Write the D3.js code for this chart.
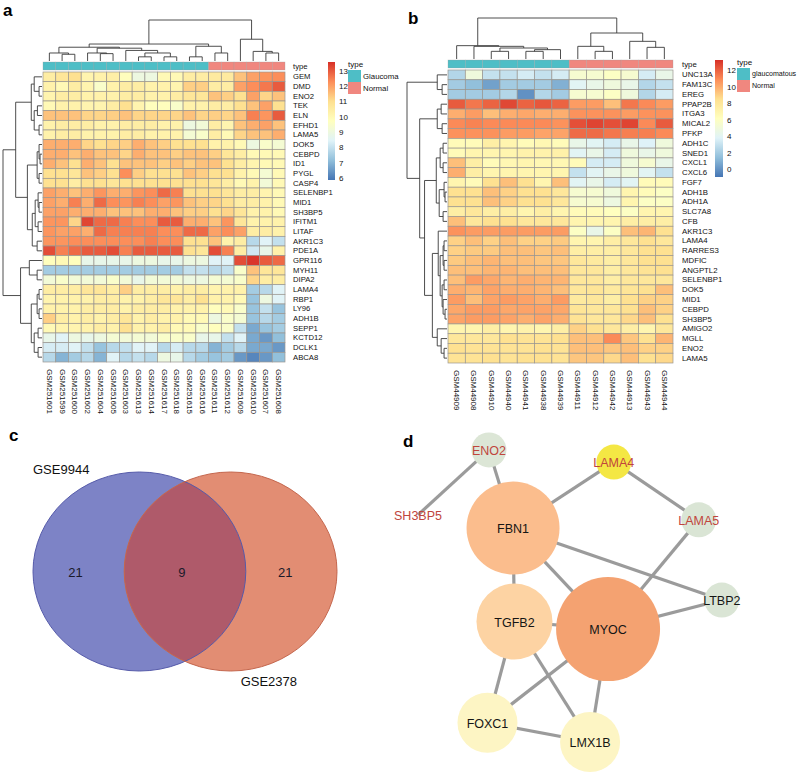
<!DOCTYPE html>
<html><head><meta charset="utf-8">
<script src="https://cdn.jsdelivr.net/npm/d3@7"></script>
<style>body{margin:0;background:#fff} svg{display:block;font-family:"Liberation Sans",Arial,Helvetica,sans-serif}</style>
</head><body><svg id="fig" width="800" height="774"></svg>
<script>
// ================= DATA =================
const genesA = ["GEM","DMD","ENO2","TEK","ELN","EFHD1","LAMA5","DOK5","CEBPD","ID1","PYGL","CASP4","SELENBP1","MID1","SH3BP5","IFITM1","LITAF","AKR1C3","PDE1A","GPR116","MYH11","DIPA2","LAMA4","RBP1","LY96","ADH1B","SEPP1","KCTD12","DCLK1","ABCA8"];
const samplesA = ["GSM251601","GSM251599","GSM251600","GSM251602","GSM251604","GSM251605","GSM251603","GSM251613","GSM251614","GSM251617","GSM251618","GSM251615","GSM251616","GSM251611","GSM251612","GSM251609","GSM251610","GSM251607","GSM251608"];
const typeA = ["Glaucoma","Glaucoma","Glaucoma","Glaucoma","Glaucoma","Glaucoma","Glaucoma","Glaucoma","Glaucoma","Glaucoma","Glaucoma","Glaucoma","Glaucoma","Normal","Normal","Normal","Normal","Normal","Normal"];
const valuesA = [
 [10.5,10.8,11,10.2,10.3,10.4,9.8,9,9,10,10,10.5,10.5,10.6,10.6,11.5,12,12.2,12.3],
 [10.3,10,10.5,10.2,9.5,10.3,10.5,10.5,10.3,10.3,10.2,11.3,11.3,10.5,10.5,12,12.3,12.6,13],
 [10.2,10.5,10.5,10.3,10.3,10.3,10.5,10.5,10.3,10.3,10.5,10.8,10.8,11.5,11.3,11,12,11.2,11.5],
 [10,10.3,10.3,10.2,10.2,10.5,11,10.2,9.8,9.8,9.5,10.3,10.3,10.5,10.5,11,11.5,12,11],
 [11.5,11.5,11.5,11.2,11.2,11.3,11.5,11.2,11.2,11.2,11.2,11.5,11.2,11.3,11.2,11.5,12.5,12.2,13],
 [10.3,10.5,10.5,10.5,10.3,10.3,10.5,10.5,10.5,10.3,10.3,9,9.2,10.5,10.2,11.5,11.8,12,11.5],
 [10.3,10.5,10.5,10.3,10.3,10.3,10.5,10.5,10.3,10.3,10.3,9.3,9.5,10.5,10,11.2,11.5,11.5,11.8],
 [11.8,11.8,11.8,11.2,11,11.2,11.3,11.8,11.5,11.3,11,11,11,10.3,10.3,10,9,9.5,9.3],
 [11.8,11.8,11.5,11.8,11.5,11.5,11.2,11.8,11.5,11.5,11.3,11.5,11.5,11.3,10.8,10.5,10,10,10],
 [11.8,11.5,11,11.8,11.5,11,11.5,11.5,11.5,11.3,11.5,11.3,11.5,11.5,11,10.5,10.2,10,10],
 [11,11,10.8,11.5,11.3,11,12.3,11.3,11,11,11,11.5,11.3,11,11,10.3,10,9.3,10],
 [11,11,10.5,11,11,10.8,11,11,11,11,11,11,11,10.8,10.5,10,10.3,9.2,10],
 [12,11.8,11.5,11.8,12.2,11.8,11.8,12.2,12.3,12.8,12.5,11,11,11,10.8,10.5,10.5,10.2,10],
 [12,11.8,12.5,11.8,12.8,12.3,12.2,12.5,12.3,12,12.2,11.5,11.3,11.2,11,10.5,10.5,10.3,10],
 [12,12,11.8,11.8,11.8,11.5,11.5,11.5,11.8,11.8,11.5,11.3,11.3,11,11.2,10.8,10.3,10.3,10],
 [12.2,12.2,11.2,13.3,12.8,12.8,12.5,12.3,12.3,13,13,11.8,11.8,11.5,12.2,10.8,10.3,10.3,10.3],
 [12.2,12,12,11.8,12.8,12.5,12.5,12.5,12.5,12.3,12.3,12.8,12.8,12,12.3,12,10.5,10.5,10.3],
 [12.2,12.2,12.3,12.3,12.3,12.3,12.3,12.3,12.5,12.3,12.3,11,11,11.5,10.3,10.5,7.8,8.5,8],
 [13.2,12.5,12.8,13,13,13.2,12.5,13,13,13,13,11,10.8,13.2,12.5,10.5,8.2,8.8,10.3],
 [9.8,10,9.8,8.8,8.8,8.8,8.8,9,9,8.8,8.8,9,9,8.5,8.5,13.2,13.5,13,12.8],
 [7.5,7.5,7.5,7.5,7.5,7.5,7.5,7.5,7.5,7.5,7.5,8,8,7.8,8,9.5,11.5,10.8,10.8],
 [9.2,9.5,9.2,9.2,9.2,9.5,9.2,8.8,9.2,9.2,9.2,9,9,9.3,9.3,9.5,11.2,10.5,10.5],
 [10.5,10.5,10.5,10.8,10.8,10.5,11.3,10.5,10.5,10.5,10.3,10.5,10.5,10.2,10.3,10.3,7.5,7.8,8.5],
 [10.2,10.3,10.3,10.3,10.5,10.5,10.3,10.3,10.5,10.8,10.8,10.5,11,10.3,10.3,10,7.3,9,8.5],
 [10.3,10.3,10.3,10.5,10.5,10.5,10.3,10.5,10.5,10.5,10.3,10.3,10.3,9.8,10,9.5,7.3,8,7.3],
 [11.3,10.5,10.3,10.5,10.3,10.5,10.8,10.3,10.5,10.3,10.3,10,10,9,9.5,9.3,7.3,7.8,7.5],
 [10,10.2,10.2,10.3,10.5,10.3,11,10.3,10.3,10.5,10,10,9.5,9.8,9.5,8,6.8,7.3,7.5],
 [8.8,8.5,9,8.8,9,9.3,9.2,9.3,9.2,9.5,9.5,9.5,8.8,8.8,8,8.5,6.8,6.5,7.2],
 [8.3,8.3,8.5,8,7.3,7.8,8,8.5,8.5,7.8,8.3,7.8,7.8,7,7.5,7.8,6.8,6.8,6.5],
 [7.8,7,7.5,7.8,7,8.5,7.8,8,7.8,9,8.8,7.8,7.5,7.3,7.5,6.5,6.2,6.5,7.2]
];
// dendrograms: [mergeHeight, left, right]; leaves are column/row indices
const colTreeA = [128,[53,[43,[25,0,[21,1,2]],[40,[25,3,[23,4,5]],[33,6,[25,[13,7,8],[13,9,10]]]]],[46,[13,11,12],[25,13,14]]],[68,15,[30,16,[25,17,18]]]];
const rowTreeA = [40,[27,[11,[8,0,[3,1,2]],[8,[4.7,3,4],[3,5,6]]],[15,[5,[3,7,[2,8,9]],[3,10,11]],[10,[7,[4,12,[3,13,14]],[4,15,16]],[5,17,18]]]],[22,[13,19,[5,20,21]],[11,[5,[3,22,23],[3,24,25]],[8,[4,26,27],[4,28,29]]]]];
const legendTicksA = [6,7,8,9,10,11,12,13];
const rangeA = [5.9,13.6];

const genesB = ["UNC13A","FAM13C","EREG","PPAP2B","ITGA3","MICAL2","PFKP","ADH1C","SNED1","CXCL1","CXCL6","FGF7","ADH1B","ADH1A","SLC7A8","CFB","AKR1C3","LAMA4","RARRES3","MDFIC","ANGPTL2","SELENBP1","DOK5","MID1","CEBPD","SH3BP5","AMIGO2","MGLL","ENO2","LAMA5"];
const samplesB = ["GSM44909","GSM44908","GSM44910","GSM44940","GSM44941","GSM44938","GSM44939","GSM44911","GSM44912","GSM44942","GSM44913","GSM44943","GSM44944"];
const typeB = ["glaucomatous","glaucomatous","glaucomatous","glaucomatous","glaucomatous","glaucomatous","glaucomatous","Normal","Normal","Normal","Normal","Normal","Normal"];
const valuesB = [
 [2.5,5,3,3,3.5,3,3.5,5.5,5.5,6,5.5,3.5,4.5],
 [2,1.5,0.5,2,2,2,1,4,4.5,5,4.5,2.5,3],
 [2,2,2,2.5,0,2.5,2,5.5,5.5,6,5,2.5,3.5],
 [12.2,11.5,12,12.7,12,12.3,12,10.5,10.5,9.5,11.5,11,10.5],
 [10,10.5,9.5,10,10.2,10,10,10.8,10.8,10.8,10.5,10.8,10.8],
 [11,11.2,11,11,11,11,10.8,12.5,12.8,12.5,12.8,11,12.2],
 [10.8,10.8,10.8,10.5,10.5,10.3,10.3,11.8,11.8,11.5,11.3,11.3,11],
 [6.5,6.5,7.5,7,6.5,6.8,6.5,4.5,4,3.5,4.5,3.8,5],
 [6.5,7,7,7,7.2,7.2,7.3,4,4.5,3.5,5,4.5,5],
 [9.5,7.5,6.5,6.8,7,6.8,6.8,6.5,3.5,3.5,5,5.5,4.5],
 [10,7.5,7,7,7,7,7,3,4,4.5,5,4,3],
 [7,6.5,8.5,9.5,8.5,7,9.5,4,4.5,3.5,4,6.5,6.5],
 [8.5,8.5,9.5,9,8.5,8.5,8,5.5,5.5,5,7,6.5,6],
 [8.5,8.5,9.5,9,8.5,8.5,8,5.5,5.5,4.8,7,6,6],
 [7.5,8,7.5,7.5,7,7.5,7,6.5,6.5,6.2,6,7,7],
 [9.5,8,8.5,8.5,8,8,8,7,7,7,7.5,7.5,7.5],
 [10.8,10.5,10.5,10.5,10.5,10.5,10.5,6,4.5,6,9.5,9.8,8.5],
 [9,9.5,9,9.5,9,9,9.2,7,7,7.5,8,8.5,8],
 [9,9.2,9.2,9.5,9.5,9.3,9.5,7.5,7.5,7.5,8,8.5,8.5],
 [9.2,9.5,9.8,9.5,9.5,9.3,9.3,8,7.8,7.5,8,8.5,8.5],
 [9.5,9.5,9.8,9.8,9.5,9.5,9.5,8,8,7.5,8,8.3,8.5],
 [9.5,10.5,10.2,9.8,10,9.8,9.8,8,8,7.5,8,8,8],
 [10,9.8,10.3,10,10,9.8,9.5,8,8.2,7.8,8.2,8.5,9.5],
 [10.5,9.5,10.3,10.5,10.3,10,10.5,7.8,8,7.5,8.5,9,9],
 [10.2,10.5,10.5,10.2,10.3,10.3,10.2,8.2,8,8,8.5,9.5,9],
 [10.3,10.5,10.5,10.3,10,10.3,10,8.3,8,8,8.8,9.5,8.5],
 [7,7,7.5,7,7.2,7,7.5,9,8.5,8,7.5,7,8],
 [8,8,8,8.5,8.3,8.3,8.5,9.5,9.5,11,9.3,8.5,9.8],
 [8.5,8.3,8.3,8.3,8.3,8.5,8.3,9.5,9.5,9.3,9.5,9,9],
 [8.3,8.3,8.5,8.3,8.5,8.5,8.3,9.3,9.3,8.8,9.5,8.5,8.8]
];
const colTreeB = [123,[40,0,[38,1,[33,[23,2,3],[28,[23,4,5],6]]]],[78,[38,7,[23,8,9]],[53,10,[35,11,12]]]];
const rowTreeB = [41,[10,0,[5,1,2]],[28,[10,[6,3,4],[5,5,6]],[23,[11,[7,[4,7,8],[4,9,10]],[8,[3,11,[2,12,13]],[4,14,15]]],[15,[9,16,[7,[4,[3,17,18],[3,19,20]],[5,[3,21,22],[4,23,[2,24,25]]]]],[10,26,[6,27,[3,28,29]]]]]]];
const legendTicksB = [0,2,4,6,8,10,12];
const rangeB = [-0.9,13.3];

const vennSets = ["GSE9944","GSE2378"];
const vennCounts = [21, 9, 21]; // only first, both, only second

const netNodes = ["ENO2","LAMA4","SH3BP5","FBN1","LAMA5","LTBP2","TGFB2","MYOC","FOXC1","LMX1B"];
const netEdges = [["SH3BP5","ENO2"],["ENO2","FBN1"],["FBN1","LAMA4"],["LAMA4","LAMA5"],["LAMA5","MYOC"],["FBN1","LTBP2"],["FBN1","TGFB2"],["FBN1","MYOC"],["MYOC","LTBP2"],["TGFB2","MYOC"],["TGFB2","FOXC1"],["TGFB2","LMX1B"],["MYOC","FOXC1"],["MYOC","LMX1B"],["FOXC1","LMX1B"]];
const netQueryGenes = ["ENO2","LAMA4","SH3BP5","LAMA5"];

// ================= DRAWING =================
const svg = d3.select("#fig");
const palette = ["#4575B4","#91BFDB","#E0F3F8","#FFFFBF","#FEE090","#FC8D59","#D73027"];
const typeColors = {Glaucoma:"#4EBEC6", glaucomatous:"#4EBEC6", Normal:"#F0877F"};

function drawDendro(g, tree, leafPos, hScale, orient) {
  function walk(node) {
    if (typeof node === "number") return {p: leafPos(node), h: 0};
    const [h, a, b] = node;
    const A = walk(a), B = walk(b);
    let d;
    if (orient === "top") {
      d = `M${A.p},${hScale(A.h)}V${hScale(h)}H${B.p}V${hScale(B.h)}`;
    } else {
      d = `M${hScale(A.h)},${A.p}H${hScale(h)}V${B.p}H${hScale(B.h)}`;
    }
    g.append("path").attr("d", d).attr("fill","none").attr("stroke","#3a3a3a").attr("stroke-width",0.9);
    return {p: (A.p + B.p) / 2, h};
  }
  walk(tree);
}

function heatmap(cfg) {
  const g = svg.append("g");
  const nC = cfg.samples.length, nR = cfg.genes.length;
  const x = d3.scaleBand().domain(d3.range(nC)).range([cfg.x0, cfg.x1]);
  const y = d3.scaleBand().domain(d3.range(nR)).range([cfg.y0, cfg.y1]);
  const [vmin, vmax] = cfg.range;
  const color = d3.scaleLinear()
    .domain(palette.map((_, i) => vmin + i * (vmax - vmin) / (palette.length - 1)))
    .range(palette).clamp(true);

  cfg.values.forEach((row, r) => row.forEach((v, c) => {
    g.append("rect").attr("x", x(c)).attr("y", y(r))
      .attr("width", x.bandwidth()).attr("height", y.bandwidth())
      .attr("fill", color(v)).attr("stroke", "#9a9690").attr("stroke-width", 0.7);
  }));
  cfg.types.forEach((t, c) => {
    g.append("rect").attr("x", x(c)).attr("y", cfg.annY)
      .attr("width", x.bandwidth()).attr("height", cfg.annH)
      .attr("fill", typeColors[t]).attr("stroke", "#9c9c9c").attr("stroke-width", 0.5).attr("stroke-opacity",0.6);
  });
  cfg.genes.forEach((gname, r) => {
    g.append("text").attr("x", cfg.x1 + cfg.labGap).attr("y", y(r) + y.bandwidth() / 2)
      .attr("dominant-baseline", "central").attr("font-size", cfg.rowFont).attr("fill","#111").text(gname);
  });
  g.append("text").attr("x", cfg.x1 + cfg.labGap).attr("y", cfg.annY + cfg.annH / 2)
    .attr("dominant-baseline", "central").attr("font-size", cfg.rowFont).attr("fill","#111").text("type");
  cfg.samples.forEach((s, c) => {
    g.append("text")
      .attr("transform", `translate(${x(c) + x.bandwidth() / 2},${cfg.y1 + 7}) rotate(90)`)
      .attr("dominant-baseline", "central").attr("font-size", 8).attr("fill","#111").text(s);
  });
  const hCol = d3.scaleLinear().domain([0, cfg.colTree[0]]).range([cfg.annY - 1, cfg.colTop]);
  drawDendro(g, cfg.colTree, c => x(c) + x.bandwidth() / 2, hCol, "top");
  const hRow = d3.scaleLinear().domain([0, cfg.rowTree[0]]).range([cfg.x0 - 1, cfg.rowLeft]);
  drawDendro(g, cfg.rowTree, r => y(r) + y.bandwidth() / 2, hRow, "left");

  const gid = "grad" + cfg.id;
  const grad = svg.append("defs").append("linearGradient").attr("id", gid)
    .attr("x1", 0).attr("y1", 1).attr("x2", 0).attr("y2", 0);
  palette.forEach((p, i) => grad.append("stop").attr("offset", i / (palette.length - 1)).attr("stop-color", p));
  const ly = d3.scaleLinear().domain(cfg.range).range([cfg.legY1, cfg.legY0]);
  g.append("rect").attr("x", cfg.legX).attr("y", cfg.legY0).attr("width", cfg.legW)
    .attr("height", cfg.legY1 - cfg.legY0).attr("fill", `url(#${gid})`);
  cfg.ticks.forEach(t => {
    g.append("text").attr("x", cfg.legX + cfg.legW + 4).attr("y", ly(t))
      .attr("dominant-baseline", "central").attr("font-size", 8).attr("fill","#111").text(t);
  });
  g.append("text").attr("x", cfg.tlX).attr("y", cfg.tlY).attr("font-size", 8).attr("fill","#111").text("type");
  const cats = Array.from(new Set(cfg.types));
  cats.forEach((ct, i) => {
    g.append("rect").attr("x", cfg.tlX).attr("y", cfg.tlY + 3 + i * 12).attr("width", 13).attr("height", 12)
      .attr("fill", typeColors[ct]);
    g.append("text").attr("x", cfg.tlX + 15).attr("y", cfg.tlY + 9 + i * 12)
      .attr("dominant-baseline", "central").attr("font-size", cfg.legFont).attr("fill","#111").text(ct);
  });
}

heatmap({id:"A", genes:genesA, samples:samplesA, types:typeA, values:valuesA, range:rangeA, ticks:legendTicksA,
  colTree:colTreeA, rowTree:rowTreeA,
  x0:43, x1:285, y0:72, y1:362, annY:62, annH:8, colTop:20, rowLeft:3, labGap:8, rowFont:7.7,
  legX:328, legW:7, legY0:62, legY1:180, tlX:348, tlY:67, legFont:7.8});

heatmap({id:"B", genes:genesB, samples:samplesB, types:typeB, values:valuesB, range:rangeB, ticks:legendTicksB,
  colTree:colTreeB, rowTree:rowTreeB,
  x0:448, x1:673, y0:70, y1:363, annY:60, annH:8, colTop:18, rowLeft:407, labGap:9, rowFont:7.8,
  legX:715, legW:8, legY0:60, legY1:177, tlX:737, tlY:65, legFont:7.1});

[["a",3,16],["b",408,24],["c",9,441],["d",403,447]].forEach(([t,px,py]) => {
  svg.append("text").attr("x",px).attr("y",py).attr("font-size",17).attr("font-weight","bold").attr("fill","#000").text(t);
});

// ---------- Venn ----------
(function(){
  const g = svg.append("g");
  const vx = d3.scaleLinear().domain([0,1]).range([33,337]);
  const vy = d3.scaleLinear().domain([0,1]).range([472,671]);
  const rx = (vx(1)-vx(0)) * 0.35, ry = (vy(1)-vy(0)) / 2, cy = vy(0.5);
  const cxs = [vx(0.35), vx(0.65)];
  const fills = ["#7d83c6","#e28d73"], strokes = ["#565baa","#c4664d"];
  g.append("defs").append("clipPath").attr("id","vclip").append("ellipse")
    .attr("cx",cxs[0]).attr("cy",cy).attr("rx",rx).attr("ry",ry);
  cxs.forEach((cx,i) => g.append("ellipse").attr("cx",cx).attr("cy",cy).attr("rx",rx).attr("ry",ry).attr("fill",fills[i]));
  g.append("ellipse").attr("cx",cxs[1]).attr("cy",cy).attr("rx",rx).attr("ry",ry).attr("fill","#af5a6a").attr("clip-path","url(#vclip)");
  cxs.forEach((cx,i) => g.append("ellipse").attr("cx",cx).attr("cy",cy).attr("rx",rx).attr("ry",ry)
    .attr("fill","none").attr("stroke",strokes[i]).attr("stroke-width",1));
  const numX = [vx(0.14), vx(0.49), vx(0.83)];
  vennCounts.forEach((n,i) => g.append("text").attr("x",numX[i]).attr("y",cy+1).attr("text-anchor","middle")
    .attr("dominant-baseline","central").attr("font-size",13).attr("fill","#1a1a2a").text(n));
  g.append("text").attr("x",vx(0)).attr("y",vy(0)+2).attr("font-size",13).attr("fill","#111").text(vennSets[0]);
  g.append("text").attr("x",vx(0.683)).attr("y",vy(1)+15).attr("font-size",13).attr("fill","#111").text(vennSets[1]);
})();

// ---------- Network ----------
(function(){
  const g = svg.append("g");
  const nx = d3.scaleLinear().domain([0,1]).range([400,760]);
  const ny = d3.scaleLinear().domain([0,1]).range([440,770]);
  const layout = {ENO2:[0.247,0.03],LAMA4:[0.594,0.067],SH3BP5:[0.05,0.227],FBN1:[0.314,0.267],LAMA5:[0.83,0.242],
    LTBP2:[0.894,0.485],TGFB2:[0.318,0.55],MYOC:[0.578,0.573],FOXC1:[0.243,0.857],LMX1B:[0.528,0.915]};
  const degree = {};
  netNodes.forEach(n => degree[n] = 0);
  netEdges.forEach(([a,b]) => { degree[a]++; degree[b]++; });
  const rScale = d3.scaleLinear().domain([1,2,3,4,5,6]).range([0,17.5,30,38,46.5,52]);
  const fill = {ENO2:"#dce6d6",LAMA4:"#f4e744",SH3BP5:"none",FBN1:"#fbbd8d",LAMA5:"#dae5d5",LTBP2:"#dae5d5",
    TGFB2:"#fdd3a3",MYOC:"#f4a271",FOXC1:"#fdf5c4",LMX1B:"#fdf5c4"};
  const P = n => [nx(layout[n][0]), ny(layout[n][1])];
  netEdges.forEach(([a,b]) => {
    const [x1,y1] = P(a), [x2,y2] = P(b);
    g.append("line").attr("x1",x1).attr("y1",y1).attr("x2",x2).attr("y2",y2)
      .attr("stroke","#9b9b9b").attr("stroke-width",3.2);
  });
  netNodes.forEach(n => {
    const [cx,cy] = P(n);
    if (fill[n] !== "none") g.append("circle").attr("cx",cx).attr("cy",cy).attr("r",rScale(degree[n])).attr("fill",fill[n]);
  });
  netNodes.forEach(n => {
    const [cx,cy] = P(n);
    const q = netQueryGenes.includes(n);
    g.append("text").attr("x",cx).attr("y",cy+1).attr("text-anchor","middle").attr("dominant-baseline","central")
      .attr("font-size",12.5).attr("fill", q ? "#c0453d" : "#151515").text(n);
  });
})();
</script></body></html>
